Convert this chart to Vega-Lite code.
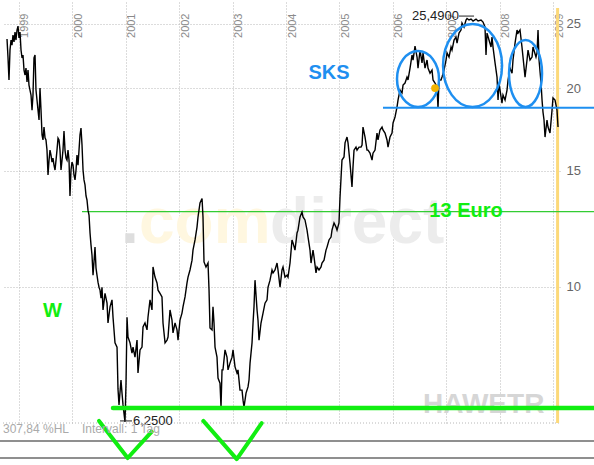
{
 "$schema": "https://vega.github.io/schema/vega-lite/v6.json",
 "width": 557,
 "height": 423,
 "autosize": "none",
 "padding": {"left": 3, "top": 0, "right": 34, "bottom": 42},
 "background": "white",
 "config": {"view": {"stroke": null}, "font": "Liberation Sans"},
 "encoding": {
  "x": {"field": "t", "type": "quantitative",
   "scale": {"domain": [1998.706, 2009.125], "nice": false, "zero": false},
   "axis": {"orient": "top", "values": [1999,2000,2001,2002,2003,2004,2005,2006,2007,2008,2009], "format": "d",
    "grid": true, "gridDash": [1,2], "gridColor": "#b8b8b8", "domain": false, "ticks": false, "tickSize": 0,
    "labelAngle": -90, "labelAlign": "right", "labelBaseline": "top", "labelPadding": -13,
    "labelColor": "#8a8a8a", "labelFontSize": 11, "labelFont": "Liberation Sans", "title": null}},
  "y": {"field": "v", "type": "quantitative",
   "scale": {"type": "log", "domain": [6.225, 27.18], "nice": false},
   "axis": {"orient": "right", "values": [10,15,20,25], "grid": true, "gridDash": [1,2], "gridColor": "#b8b8b8",
    "domain": false, "ticks": false, "tickSize": 0, "labelPadding": 6, "labelColor": "#666666",
    "labelFontSize": 13, "labelFont": "Liberation Sans", "title": null}}
 },
 "layer": [
  {"data": {"values": [{"t": 2000.913, "v": 11.65}]}, "mark": {"type": "text", "text": ".", "fontSize": 64, "fontWeight": "bold", "align": "left", "baseline": "alphabetic", "color": "#dedede"}},
  {"data": {"values": [{"t": 2001.250, "v": 11.65}]}, "mark": {"type": "text", "text": "com", "fontSize": 64, "fontWeight": "bold", "align": "left", "baseline": "alphabetic", "color": "#fff7e0"}},
  {"data": {"values": [{"t": 2003.701, "v": 11.65}]}, "mark": {"type": "text", "text": "direct", "fontSize": 64, "fontWeight": "bold", "align": "left", "baseline": "alphabetic", "color": "#ececec"}},
  {"data": {"values": [{"t": 2006.563, "v": 6.44}]}, "mark": {"type": "text", "text": "HAWETR", "fontSize": 28, "fontWeight": "bold", "align": "left", "baseline": "alphabetic", "color": "#d6d6d6"}},
  {"data": {"values": [{"t": 1998.65, "t2": 2009.761, "v": 5.846}, {"t": 1998.65, "t2": 2009.761, "v": 5.51}]},
   "mark": {"type": "rule", "color": "#6a6a6a", "strokeWidth": 1.5}, "encoding": {"x2": {"field": "t2"}}},
  {"data": {"values": [{"t": 1998.706, "t2": 2009.125, "v": 6.225}]},
   "mark": {"type": "rule", "color": "#b8b8b8", "strokeDash": [1,2]}, "encoding": {"x2": {"field": "t2"}}},
  {"data": {"values": [{"t": 2009.08, "v": 26.43, "v2": 6.225}]},
   "mark": {"type": "rule", "color": "#fcd97a", "strokeWidth": 3}, "encoding": {"y2": {"field": "v2"}}},
  {"data": {"values": [{"t": 2000.184, "t2": 2009.761, "v": 13.0}]},
   "mark": {"type": "rule", "color": "#33cc33", "strokeWidth": 1.2}, "encoding": {"x2": {"field": "t2"}}},
  {"data": {"values": [
{"t":1998.781,"v":23.72},{"t":1998.800,"v":22.21},{"t":1998.818,"v":20.57},{"t":1998.837,"v":22.83},{"t":1998.856,"v":23.64},
{"t":1998.874,"v":23.23},{"t":1998.893,"v":24.06},{"t":1998.912,"v":23.48},{"t":1998.931,"v":24.31},{"t":1998.949,"v":23.64},
{"t":1998.968,"v":24.48},{"t":1998.987,"v":24.82},{"t":1999.005,"v":23.81},{"t":1999.024,"v":24.31},{"t":1999.043,"v":22.83},
{"t":1999.062,"v":22.21},{"t":1999.080,"v":22.44},{"t":1999.099,"v":21.29},{"t":1999.118,"v":20.93},{"t":1999.136,"v":21.44},
{"t":1999.155,"v":20.43},{"t":1999.174,"v":21.29},{"t":1999.192,"v":20.21},{"t":1999.211,"v":19.86},{"t":1999.230,"v":19.52},
{"t":1999.249,"v":18.52},{"t":1999.267,"v":19.52},{"t":1999.286,"v":22.21},{"t":1999.305,"v":22.44},{"t":1999.323,"v":19.86},
{"t":1999.342,"v":19.18},{"t":1999.361,"v":18.52},{"t":1999.380,"v":17.89},{"t":1999.398,"v":20.00},{"t":1999.417,"v":18.52},
{"t":1999.436,"v":16.98},{"t":1999.454,"v":16.69},{"t":1999.473,"v":17.46},{"t":1999.492,"v":16.81},{"t":1999.510,"v":16.69},
{"t":1999.529,"v":16.11},{"t":1999.548,"v":14.77},{"t":1999.567,"v":15.56},{"t":1999.585,"v":16.11},{"t":1999.604,"v":15.83},
{"t":1999.623,"v":15.45},{"t":1999.641,"v":15.67},{"t":1999.660,"v":15.29},{"t":1999.679,"v":15.03},{"t":1999.698,"v":15.56},
{"t":1999.716,"v":16.11},{"t":1999.735,"v":16.80},{"t":1999.754,"v":16.69},{"t":1999.772,"v":16.11},{"t":1999.791,"v":15.03},
{"t":1999.810,"v":15.56},{"t":1999.828,"v":16.11},{"t":1999.847,"v":17.22},{"t":1999.866,"v":16.11},{"t":1999.885,"v":15.67},
{"t":1999.903,"v":15.56},{"t":1999.922,"v":16.11},{"t":1999.941,"v":15.56},{"t":1999.959,"v":13.73},{"t":1999.978,"v":15.03},
{"t":1999.997,"v":15.45},{"t":2000.016,"v":15.29},{"t":2000.034,"v":14.77},{"t":2000.053,"v":14.52},{"t":2000.072,"v":15.03},
{"t":2000.090,"v":15.83},{"t":2000.109,"v":15.29},{"t":2000.128,"v":16.11},{"t":2000.146,"v":16.98},{"t":2000.165,"v":17.40},
{"t":2000.184,"v":16.40},{"t":2000.203,"v":15.03},{"t":2000.221,"v":14.52},{"t":2000.240,"v":14.27},{"t":2000.259,"v":13.73},
{"t":2000.277,"v":13.54},{"t":2000.296,"v":13.07},{"t":2000.315,"v":12.85},{"t":2000.334,"v":12.07},{"t":2000.352,"v":11.58},
{"t":2000.371,"v":11.17},{"t":2000.390,"v":10.42},{"t":2000.408,"v":10.91},{"t":2000.427,"v":11.49},{"t":2000.446,"v":10.68},
{"t":2000.464,"v":10.42},{"t":2000.483,"v":10.17},{"t":2000.502,"v":9.99},{"t":2000.521,"v":9.89},{"t":2000.539,"v":9.62},
{"t":2000.558,"v":9.99},{"t":2000.577,"v":9.23},{"t":2000.614,"v":9.78},{"t":2000.652,"v":9.45},{"t":2000.670,"v":8.82},
{"t":2000.708,"v":9.33},{"t":2000.745,"v":9.56},{"t":2000.764,"v":9.00},{"t":2000.801,"v":8.23},{"t":2000.839,"v":8.11},
{"t":2000.857,"v":7.01},{"t":2000.876,"v":6.63},{"t":2000.913,"v":7.23},{"t":2000.932,"v":6.91},{"t":2000.951,"v":6.63},
{"t":2000.988,"v":6.25},{"t":2001.007,"v":7.15},{"t":2001.026,"v":9.00},{"t":2001.044,"v":8.40},{"t":2001.082,"v":8.23},
{"t":2001.119,"v":7.94},{"t":2001.138,"v":8.11},{"t":2001.175,"v":7.83},{"t":2001.213,"v":8.31},{"t":2001.231,"v":7.41},
{"t":2001.269,"v":8.03},{"t":2001.306,"v":8.11},{"t":2001.325,"v":8.70},{"t":2001.362,"v":8.82},{"t":2001.400,"v":8.61},
{"t":2001.418,"v":9.00},{"t":2001.456,"v":9.56},{"t":2001.493,"v":9.23},{"t":2001.512,"v":10.72},{"t":2001.549,"v":10.35},
{"t":2001.587,"v":10.14},{"t":2001.606,"v":9.89},{"t":2001.643,"v":9.78},{"t":2001.680,"v":9.66},{"t":2001.699,"v":8.82},
{"t":2001.737,"v":8.23},{"t":2001.774,"v":8.31},{"t":2001.793,"v":8.40},{"t":2001.830,"v":9.23},{"t":2001.867,"v":8.91},
{"t":2001.886,"v":8.52},{"t":2001.924,"v":8.82},{"t":2001.961,"v":8.61},{"t":2001.980,"v":8.31},{"t":2002.017,"v":8.91},
{"t":2002.054,"v":9.13},{"t":2002.073,"v":9.33},{"t":2002.111,"v":9.66},{"t":2002.148,"v":10.14},{"t":2002.167,"v":10.35},
{"t":2002.204,"v":10.61},{"t":2002.242,"v":10.98},{"t":2002.260,"v":11.37},{"t":2002.298,"v":11.78},{"t":2002.335,"v":12.32},
{"t":2002.354,"v":12.76},{"t":2002.391,"v":13.40},{"t":2002.429,"v":13.61},{"t":2002.447,"v":12.76},{"t":2002.466,"v":10.91},
{"t":2002.503,"v":10.72},{"t":2002.541,"v":10.87},{"t":2002.560,"v":9.89},{"t":2002.578,"v":8.67},{"t":2002.616,"v":8.61},
{"t":2002.634,"v":9.33},{"t":2002.653,"v":8.82},{"t":2002.672,"v":8.11},{"t":2002.709,"v":7.83},{"t":2002.728,"v":7.28},
{"t":2002.765,"v":7.15},{"t":2002.784,"v":6.58},{"t":2002.803,"v":7.49},{"t":2002.821,"v":7.49},{"t":2002.859,"v":8.03},
{"t":2002.896,"v":7.83},{"t":2002.915,"v":7.49},{"t":2002.952,"v":7.67},{"t":2002.990,"v":7.83},{"t":2003.009,"v":8.03},
{"t":2003.046,"v":7.57},{"t":2003.083,"v":7.41},{"t":2003.102,"v":7.49},{"t":2003.139,"v":6.98},{"t":2003.177,"v":6.98},
{"t":2003.196,"v":6.74},{"t":2003.214,"v":6.58},{"t":2003.252,"v":6.91},{"t":2003.289,"v":7.06},{"t":2003.308,"v":7.23},
{"t":2003.327,"v":7.67},{"t":2003.364,"v":8.23},{"t":2003.383,"v":8.82},{"t":2003.401,"v":9.33},{"t":2003.420,"v":10.24},
{"t":2003.458,"v":9.23},{"t":2003.476,"v":8.91},{"t":2003.495,"v":8.31},{"t":2003.532,"v":8.82},{"t":2003.570,"v":9.13},
{"t":2003.607,"v":9.45},{"t":2003.645,"v":9.56},{"t":2003.663,"v":9.99},{"t":2003.701,"v":10.24},{"t":2003.738,"v":10.61},
{"t":2003.757,"v":10.50},{"t":2003.794,"v":10.61},{"t":2003.832,"v":10.87},{"t":2003.850,"v":10.61},{"t":2003.888,"v":9.99},
{"t":2003.925,"v":10.61},{"t":2003.944,"v":10.72},{"t":2003.981,"v":10.35},{"t":2004.019,"v":10.42},{"t":2004.037,"v":10.35},
{"t":2004.075,"v":10.87},{"t":2004.112,"v":11.78},{"t":2004.131,"v":11.66},{"t":2004.168,"v":11.37},{"t":2004.206,"v":12.07},
{"t":2004.224,"v":12.19},{"t":2004.262,"v":12.76},{"t":2004.299,"v":12.98},{"t":2004.318,"v":12.76},{"t":2004.355,"v":12.63},
{"t":2004.393,"v":12.19},{"t":2004.412,"v":11.90},{"t":2004.449,"v":11.37},{"t":2004.468,"v":10.87},{"t":2004.505,"v":11.37},
{"t":2004.524,"v":11.10},{"t":2004.561,"v":10.50},{"t":2004.580,"v":10.72},{"t":2004.617,"v":10.61},{"t":2004.655,"v":10.72},
{"t":2004.673,"v":10.87},{"t":2004.711,"v":10.98},{"t":2004.748,"v":11.37},{"t":2004.767,"v":11.49},{"t":2004.804,"v":11.78},
{"t":2004.842,"v":11.90},{"t":2004.860,"v":12.19},{"t":2004.898,"v":12.50},{"t":2004.935,"v":12.32},{"t":2004.954,"v":12.19},
{"t":2004.991,"v":12.50},{"t":2005.010,"v":13.67},{"t":2005.029,"v":14.62},{"t":2005.047,"v":15.56},{"t":2005.085,"v":15.73},
{"t":2005.104,"v":16.52},{"t":2005.141,"v":16.86},{"t":2005.160,"v":16.52},{"t":2005.197,"v":15.40},{"t":2005.234,"v":14.17},
{"t":2005.253,"v":15.19},{"t":2005.272,"v":16.11},{"t":2005.309,"v":16.28},{"t":2005.328,"v":16.11},{"t":2005.366,"v":16.28},
{"t":2005.403,"v":16.28},{"t":2005.422,"v":16.40},{"t":2005.440,"v":17.46},{"t":2005.478,"v":16.86},{"t":2005.515,"v":16.11},
{"t":2005.534,"v":16.11},{"t":2005.571,"v":15.94},{"t":2005.609,"v":15.56},{"t":2005.627,"v":15.94},{"t":2005.665,"v":16.11},
{"t":2005.702,"v":17.10},{"t":2005.721,"v":16.69},{"t":2005.758,"v":17.28},{"t":2005.796,"v":17.46},{"t":2005.814,"v":17.28},
{"t":2005.852,"v":17.10},{"t":2005.889,"v":16.69},{"t":2005.908,"v":16.28},{"t":2005.945,"v":16.86},{"t":2005.983,"v":17.10},
{"t":2006.002,"v":17.71},{"t":2006.039,"v":18.08},{"t":2006.076,"v":18.71},{"t":2006.095,"v":19.18},{"t":2006.132,"v":19.86},
{"t":2006.170,"v":19.66},{"t":2006.189,"v":20.21},{"t":2006.226,"v":20.35},{"t":2006.263,"v":20.78},{"t":2006.282,"v":20.57},
{"t":2006.320,"v":21.44},{"t":2006.357,"v":22.44},{"t":2006.376,"v":22.05},{"t":2006.413,"v":23.15},{"t":2006.451,"v":22.28},
{"t":2006.469,"v":21.44},{"t":2006.507,"v":22.83},{"t":2006.544,"v":21.83},{"t":2006.563,"v":22.60},{"t":2006.600,"v":21.44},
{"t":2006.638,"v":22.05},{"t":2006.656,"v":21.44},{"t":2006.694,"v":21.06},{"t":2006.731,"v":21.29},{"t":2006.750,"v":20.57},
{"t":2006.787,"v":20.35},{"t":2006.825,"v":20.07},{"t":2006.843,"v":18.65},{"t":2006.862,"v":20.57},{"t":2006.899,"v":20.57},
{"t":2006.918,"v":20.78},{"t":2006.956,"v":21.29},{"t":2006.993,"v":22.05},{"t":2007.012,"v":22.60},{"t":2007.049,"v":22.28},
{"t":2007.087,"v":23.07},{"t":2007.105,"v":22.83},{"t":2007.143,"v":23.64},{"t":2007.180,"v":23.89},{"t":2007.199,"v":23.39},
{"t":2007.236,"v":24.22},{"t":2007.273,"v":24.48},{"t":2007.292,"v":25.08},{"t":2007.330,"v":24.74},{"t":2007.367,"v":25.35},
{"t":2007.386,"v":25.49},{"t":2007.423,"v":25.35},{"t":2007.461,"v":25.43},{"t":2007.498,"v":25.26},{"t":2007.554,"v":25.43},
{"t":2007.592,"v":25.26},{"t":2007.648,"v":25.35},{"t":2007.685,"v":25.17},{"t":2007.722,"v":24.74},{"t":2007.741,"v":22.44},
{"t":2007.760,"v":24.22},{"t":2007.797,"v":23.64},{"t":2007.835,"v":23.07},{"t":2007.853,"v":23.89},{"t":2007.872,"v":23.07},
{"t":2007.910,"v":21.83},{"t":2007.947,"v":20.78},{"t":2007.966,"v":19.18},{"t":2007.984,"v":20.35},{"t":2008.003,"v":19.86},
{"t":2008.040,"v":18.97},{"t":2008.059,"v":19.52},{"t":2008.097,"v":19.18},{"t":2008.134,"v":19.86},{"t":2008.153,"v":20.57},
{"t":2008.190,"v":21.44},{"t":2008.228,"v":21.06},{"t":2008.246,"v":22.05},{"t":2008.284,"v":23.39},{"t":2008.321,"v":24.48},
{"t":2008.340,"v":24.22},{"t":2008.377,"v":24.48},{"t":2008.414,"v":23.07},{"t":2008.433,"v":22.28},{"t":2008.471,"v":20.78},
{"t":2008.508,"v":22.05},{"t":2008.527,"v":22.83},{"t":2008.564,"v":22.05},{"t":2008.602,"v":22.28},{"t":2008.620,"v":23.07},
{"t":2008.676,"v":22.28},{"t":2008.695,"v":22.60},{"t":2008.714,"v":24.48},{"t":2008.733,"v":22.05},{"t":2008.770,"v":20.35},
{"t":2008.789,"v":19.18},{"t":2008.807,"v":18.39},{"t":2008.826,"v":17.89},{"t":2008.845,"v":16.86},{"t":2008.882,"v":17.89},
{"t":2008.901,"v":17.46},{"t":2008.938,"v":17.10},{"t":2008.976,"v":18.52},{"t":2008.994,"v":19.32},{"t":2009.032,"v":19.18},
{"t":2009.069,"v":18.52},{"t":2009.088,"v":17.46}
  ]}, "mark": {"type": "line", "color": "#000000", "strokeWidth": 1.4}},
  {"data": {"values": [{"t": 2005.814, "t2": 2009.761, "v": 18.67}]},
   "mark": {"type": "rule", "color": "#1e8ff0", "strokeWidth": 2}, "encoding": {"x2": {"field": "t2"}}},
  {"data": {"values": [{"t": 2006.469, "v": 20.64}]},
   "mark": {"type": "point", "filled": false, "color": "#1e8ff0", "strokeWidth": 2.5, "opacity": 1, "size": 3136,
    "shape": "M0.75,0C0.75,0.552 0.414,1 0,1C-0.414,1 -0.75,0.552 -0.75,0C-0.75,-0.552 -0.414,-1 0,-1C0.414,-1 0.75,-0.552 0.75,0Z"}},
  {"data": {"values": [{"t": 2007.489, "v": 21.63}]},
   "mark": {"type": "point", "filled": false, "color": "#1e8ff0", "strokeWidth": 2.5, "opacity": 1, "size": 6889,
    "shape": "M0.711,0C0.711,0.552 0.393,1 0,1C-0.393,1 -0.711,0.552 -0.711,0C-0.711,-0.552 -0.393,-1 0,-1C0.393,-1 0.711,-0.552 0.711,0Z"}},
  {"data": {"values": [{"t": 2008.480, "v": 21.04}]},
   "mark": {"type": "point", "filled": false, "color": "#1e8ff0", "strokeWidth": 2.5, "opacity": 1, "size": 4489,
    "shape": "M0.493,0C0.493,0.552 0.272,1 0,1C-0.272,1 -0.493,0.552 -0.493,0C-0.493,-0.552 -0.272,-1 0,-1C0.272,-1 0.493,-0.552 0.493,0Z"}},
  {"data": {"values": [{"t": 2006.787, "v": 20.0}]},
   "mark": {"type": "point", "filled": true, "shape": "circle", "color": "#f2b400", "size": 60, "opacity": 1}},
  {"data": {"values": [{"t": 2000.764, "t2": 2009.761, "v": 6.56}]},
   "mark": {"type": "rule", "color": "#11ee11", "strokeWidth": 4.5, "strokeCap": "round"}, "encoding": {"x2": {"field": "t2"}}},
  {"data": {"values": [
    {"g": "a", "t": 2000.502, "v": 6.27}, {"g": "a", "t": 2001.039, "v": 5.51}, {"g": "a", "t": 2001.488, "v": 6.04},
    {"g": "b", "t": 2002.453, "v": 6.27}, {"g": "b", "t": 2003.078, "v": 5.49}, {"g": "b", "t": 2003.545, "v": 6.22}]},
   "mark": {"type": "line", "color": "#11ee11", "strokeWidth": 4, "strokeCap": "round", "strokeJoin": "round"},
   "encoding": {"detail": {"field": "g"}}},
  {"data": {"values": [{"t": 2004.804, "v": 21.07}]}, "mark": {"type": "text", "text": "SKS", "fontSize": 20, "fontWeight": "bold", "align": "center", "baseline": "middle", "color": "#1e8ff0"}},
  {"data": {"values": [{"t": 2007.367, "v": 13.03}]}, "mark": {"type": "text", "text": "13 Euro", "fontSize": 20, "fontWeight": "bold", "align": "center", "baseline": "middle", "color": "#11ee11"}},
  {"data": {"values": [{"t": 1999.632, "v": 9.2}]}, "mark": {"type": "text", "text": "W", "fontSize": 20, "fontWeight": "bold", "align": "center", "baseline": "middle", "color": "#11ee11"}},
  {"data": {"values": [{"t": 2007.236, "v": 25.70}]}, "mark": {"type": "text", "text": "25,4900", "fontSize": 13, "align": "right", "baseline": "middle", "color": "#222222"}},
  {"data": {"values": [{"t": 2007.236, "t2": 2007.517, "v": 25.70}]}, "mark": {"type": "rule", "color": "#222222", "strokeWidth": 1}, "encoding": {"x2": {"field": "t2"}}},
  {"data": {"values": [{"t": 2001.138, "v": 6.27}]}, "mark": {"type": "text", "text": "6,2500", "fontSize": 13, "align": "left", "baseline": "middle", "color": "#222222"}},
  {"data": {"values": [{"t": 2000.895, "t2": 2001.119, "v": 6.27}]}, "mark": {"type": "rule", "color": "#222222", "strokeWidth": 1}, "encoding": {"x2": {"field": "t2"}}},
  {"data": {"values": [{"t": 1998.706, "v": 6.10}]}, "mark": {"type": "text", "text": "307,84 %HL", "fontSize": 12, "align": "left", "baseline": "middle", "color": "#aaaaaa"}},
  {"data": {"values": [{"t": 2000.184, "v": 6.10}]}, "mark": {"type": "text", "text": "Intervall: 1 Tag", "fontSize": 12, "align": "left", "baseline": "middle", "color": "#aaaaaa"}}
 ]
}
